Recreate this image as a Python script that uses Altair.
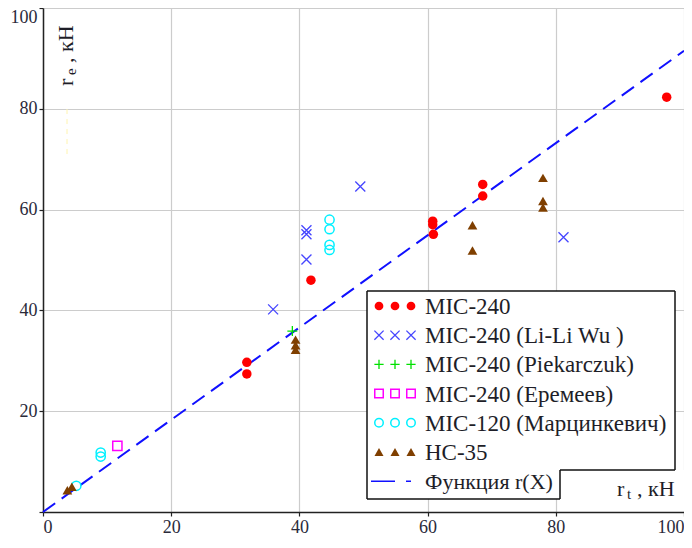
import altair as alt
import pandas as pd

# ---------------- data ----------------
mic240_x = [31.8, 31.8, 41.8, 60.8, 60.8, 60.9, 68.6, 68.6, 97.3]
mic240_y = [29.7, 27.4, 46.0, 57.7, 57.0, 55.1, 65.0, 62.7, 82.3]

wu_x = [35.9, 41.1, 41.1, 41.1, 49.5, 81.2]
wu_y = [40.2, 55.9, 55.1, 50.1, 64.6, 54.5]

piek_x = [38.9]
piek_y = [35.9]

erem_x = [11.6]
erem_y = [13.1]

marc_x = [44.7, 44.7, 44.7, 44.7, 9.0, 9.0, 5.2]
marc_y = [58.0, 56.1, 53.0, 52.0, 11.8, 11.0, 5.2]

hc_x = [3.8, 4.5, 39.4, 39.4, 39.4, 67.0, 67.0, 78.0, 78.0, 78.0]
hc_y = [4.3, 5.0, 34.2, 33.1, 32.2, 56.9, 51.9, 66.3, 61.7, 60.4]

func_x = [0, 100]
func_y = [0, 91.5]

ticks = [0, 20, 40, 60, 80, 100]

legend_labels = [
    "MIC-240",
    "MIC-240 (Li-Li Wu )",
    "MIC-240 (Piekarczuk)",
    "MIC-240 (Еремеев)",
    "MIC-120 (Марцинкевич)",
    "HC-35",
    "Функция r(X)",
]

# ---------------- styling ----------------
SERIF = "'Liberation Serif', 'Times New Roman', 'DejaVu Serif', serif"
TXT = "#1e1e28"
W, H = 641, 504

RED = "#ff0000"
BLUE = "#4646ff"
GREEN = "#00e000"
MAGENTA = "#ff00ff"
CYAN = "#00f0ff"
BROWN = "#7f3f00"
LINE = "#1010ff"

X_SHAPE = "M-1,-1L1,1M-1,1L1,-1"
PLUS_SHAPE = "M-1,0L1,0M0,-1L0,1"

xs = alt.Scale(domain=[0, 100], nice=False, zero=False)
ys = alt.Scale(domain=[0, 100], nice=False, zero=False)

x_enc = alt.X("x:Q", scale=xs,
              axis=alt.Axis(values=ticks, title=None, labelFlush=True, grid=True,
                            labelPadding=2))
y_enc = alt.Y("y:Q", scale=ys,
              axis=alt.Axis(values=ticks, title=None, labelFlush=True, grid=True,
                            labelPadding=2,
                            labelExpr="datum.value == 0 ? '' : datum.label"))


def df(xv, yv):
    return pd.DataFrame({"x": xv, "y": yv})


one = pd.DataFrame({"k": [0]})

layers = []

# function line
layers.append(
    alt.Chart(df(func_x, func_y)).mark_line(color=LINE, strokeWidth=2, strokeDash=[15, 8])
    .encode(x=x_enc, y=y_enc)
)

# series styles: (xs, ys, shape, filled, size, color, strokeWidth)
styles = [
    (mic240_x, mic240_y, "circle", True, 90, RED, 0),
    (wu_x, wu_y, X_SHAPE, False, 100, BLUE, 1.3),
    (piek_x, piek_y, PLUS_SHAPE, False, 100, GREEN, 1.3),
    (erem_x, erem_y, "square", False, 85, MAGENTA, 1.5),
    (marc_x, marc_y, "circle", False, 85, CYAN, 1.5),
    (hc_x, hc_y, "triangle-up", True, 95, BROWN, 0),
]

for xv, yv, shp, filled, size, col, sw in styles:
    kw = dict(shape=shp, filled=filled, size=size, color=col, opacity=1)
    if sw:
        kw["strokeWidth"] = sw
    layers.append(alt.Chart(df(xv, yv)).mark_point(**kw).encode(x=x_enc, y=y_enc))


# ---------------- helpers for annotations (pixel space) ----------------
def hrule(x1, x2, y, color="#111111", width=1.5, dash=None):
    kw = dict(color=color, strokeWidth=width)
    if dash:
        kw["strokeDash"] = dash
    return alt.Chart(one).mark_rule(**kw).encode(x=alt.value(x1), x2=alt.value(x2), y=alt.value(y))


def vrule(x, y1, y2, color="#111111", width=1.5, dash=None):
    kw = dict(color=color, strokeWidth=width)
    if dash:
        kw["strokeDash"] = dash
    return alt.Chart(one).mark_rule(**kw).encode(x=alt.value(x), y=alt.value(y1), y2=alt.value(y2))


def rect(x1, x2, y1, y2, color="white"):
    return alt.Chart(one).mark_rect(color=color, opacity=1).encode(
        x=alt.value(x1), x2=alt.value(x2), y=alt.value(y1), y2=alt.value(y2))


def txt(s, px, py, size=23, angle=0, baseline="middle"):
    return alt.Chart(one).mark_text(text=s, font=SERIF, fontSize=size, angle=angle,
                                    align="left", baseline=baseline, color=TXT).encode(
        x=alt.value(px), y=alt.value(py))


def sym(px, py, shp, filled, size, col, sw):
    kw = dict(shape=shp, filled=filled, size=size, color=col, opacity=1)
    if sw:
        kw["strokeWidth"] = sw
    return alt.Chart(one).mark_point(**kw).encode(x=alt.value(px), y=alt.value(py))


# faint yellow artifact
layers.append(vrule(24, 101, 151, color="#fff4b0", width=1, dash=[5, 5]))

# legend box with notch
LX1, LX2, LY1, LY2 = 324, 632, 283, 491
NX, NY = 517, 462
layers.append(rect(LX1, LX2, LY1, LY2))
layers.append(rect(NX, W, NY, H - 1))
layers += [
    hrule(LX1, LX2, LY1),
    vrule(LX1, LY1, LY2),
    hrule(LX1, NX, LY2),
    vrule(NX, NY, LY2),
    hrule(NX, LX2, NY),
    vrule(LX2, LY1, NY),
]

ROW0, DY = 298, 29.2
SX = [336, 352, 368]
for i, (xv, yv, shp, filled, size, col, sw) in enumerate(styles):
    ry = ROW0 + DY * i
    for sx in SX:
        layers.append(sym(sx, ry, shp, filled, size * 0.85, col, sw))
    layers.append(txt(legend_labels[i], 382, ry + 1))

ry = ROW0 + DY * 6
layers.append(hrule(328, 368, ry, color=LINE, width=1.5, dash=[24, 11, 5, 100]))
layers.append(txt(legend_labels[6], 382, ry + 1, size=22))

# x-axis title  r_t , кН
layers.append(txt("r", 574, 488, size=22, baseline="alphabetic"))
layers.append(txt("t", 584, 491, size=15, baseline="alphabetic"))
layers.append(txt(", кН", 594, 488, size=22, baseline="alphabetic"))

# y-axis title  r_e , кН (rotated)
layers.append(txt("r", 30, 78, size=22, angle=270, baseline="alphabetic"))
layers.append(txt("e", 33, 67, size=15, angle=270, baseline="alphabetic"))
layers.append(txt(", кН", 30, 55, size=22, angle=270, baseline="alphabetic"))

chart = (
    alt.layer(*layers)
    .properties(width=W, height=H, autosize="none",
                padding={"left": 35, "top": 0, "right": 0, "bottom": 28})
    .configure_axis(labelFont=SERIF, labelFontSize=18, labelColor="#2a2a3a",
                    domainColor="#222222", domainWidth=1.5, tickColor="#222222",
                    tickSize=4, tickWidth=1.2, gridColor="#cccccc", gridWidth=1.2)
    .configure_view(stroke=None)
)

chart.save("out.html", embed_options={"renderer": "svg", "actions": False})
